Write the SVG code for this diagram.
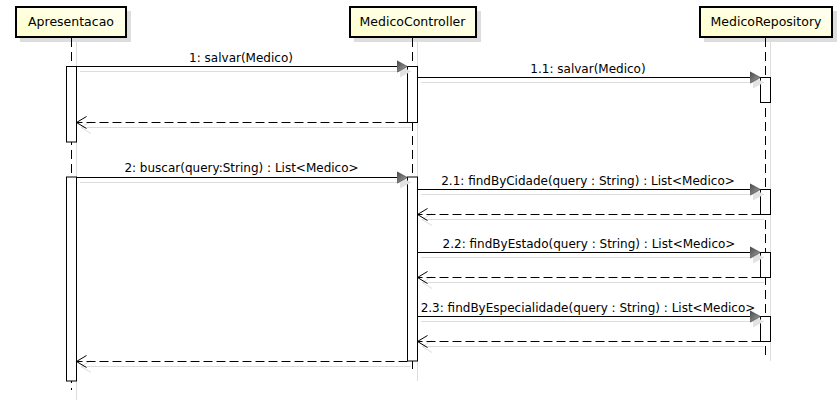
<svg xmlns="http://www.w3.org/2000/svg" width="840" height="400" viewBox="0 0 840 400">
<defs>
<linearGradient id="boxfill" x1="0" y1="1" x2="1" y2="0">
<stop offset="0" stop-color="#ffffcc"/>
<stop offset="1" stop-color="#fffff4"/>
</linearGradient>
<linearGradient id="headfill" x1="0" y1="0" x2="1" y2="1">
<stop offset="0" stop-color="#444"/>
<stop offset="1" stop-color="#aaa"/>
</linearGradient>
<marker id="sync" markerWidth="12" markerHeight="14" refX="11" refY="7" orient="auto" markerUnits="userSpaceOnUse">
<path d="M0,1 L11,7 L0,13 Z" fill="url(#headfill)" stroke="#333" stroke-width="0.5"/>
</marker>
<marker id="syncsh" markerWidth="12" markerHeight="14" refX="11" refY="7" orient="auto" markerUnits="userSpaceOnUse">
<path d="M0,1 L11,7 L0,13 Z" fill="#e2e2e2"/>
</marker>
<marker id="open" markerWidth="12" markerHeight="14" refX="11" refY="7" orient="auto" markerUnits="userSpaceOnUse">
<path d="M1,1 L11,7 L1,13" fill="none" stroke="#000" stroke-width="1"/>
</marker>
<marker id="opensh" markerWidth="12" markerHeight="14" refX="11" refY="7" orient="auto" markerUnits="userSpaceOnUse">
<path d="M1,1 L11,7 L1,13" fill="none" stroke="#dddddd" stroke-width="1"/>
</marker>
</defs>
<style>
.box{fill:url(#boxfill);stroke:#000;stroke-width:2}
.shadow{fill:#dddddd}
.life{stroke:#000;stroke-width:1;stroke-dasharray:9,5;fill:none}
.lifesh{stroke:#dddddd;stroke-width:1;fill:none}
.act{fill:#fff;stroke:#000;stroke-width:1}
.msg{stroke:#000;stroke-width:1;fill:none}
.msgsh{stroke:#dddddd;stroke-width:1;fill:none}
.ret{stroke:#000;stroke-width:1;stroke-dasharray:9,4;fill:none}
.t{font-family:"DejaVu Sans",sans-serif;font-size:12px;fill:#000;text-anchor:middle}
.bt{font-family:"DejaVu Sans",sans-serif;font-size:12.5px;fill:#000;text-anchor:middle}
</style>
<rect width="840" height="400" fill="#fff"/>

<g id="lifeline-shadows">
<line class="lifesh" x1="76.5" y1="42" x2="76.5" y2="400"/>
<line class="lifesh" x1="417.5" y1="42" x2="417.5" y2="381"/>
<line class="lifesh" x1="770.5" y1="42" x2="770.5" y2="361"/>
</g>

<g id="Apresentacao">
<rect class="shadow" x="20" y="11" width="111" height="31"/>
<rect class="box" x="16" y="7" width="110" height="30"/>
<text class="bt" x="71" y="26">Apresentacao</text>
<line class="life" x1="71.5" y1="38" x2="71.5" y2="390"/>
<rect class="act" x="66.5" y="66.5" width="10" height="75.5"/>
<rect class="act" x="66.5" y="177" width="10" height="204"/>
</g>

<g id="MedicoController">
<rect class="shadow" x="354" y="11" width="127" height="31"/>
<rect class="box" x="350" y="7" width="126" height="30"/>
<text class="bt" x="412.5" y="26">MedicoController</text>
<line class="life" x1="412.5" y1="38" x2="412.5" y2="373"/>
<rect class="act" x="407.5" y="66.5" width="10" height="56"/>
<rect class="act" x="407.5" y="177" width="10" height="184"/>
</g>

<g id="MedicoRepository">
<rect class="shadow" x="704" y="11" width="133" height="31"/>
<rect class="box" x="700" y="7" width="132" height="30"/>
<text class="bt" x="766" y="26">MedicoRepository</text>
<line class="life" x1="765.5" y1="38" x2="765.5" y2="355"/>
<rect class="act" x="760.5" y="77.5" width="10" height="25"/>
<rect class="act" x="760.5" y="189.5" width="10" height="25"/>
<rect class="act" x="760.5" y="252.5" width="10" height="25"/>
<rect class="act" x="760.5" y="316.5" width="10" height="25"/>
</g>

<g id="connectors">
<line class="msgsh" x1="80" y1="71.5" x2="411" y2="71.5" marker-end="url(#syncsh)"/>
<line class="msg" x1="76.5" y1="66.5" x2="407.5" y2="66.5" marker-end="url(#sync)"/>
<text class="t" x="241" y="62">1: salvar(Medico)</text>

<line class="msgsh" x1="421" y1="82.5" x2="764" y2="82.5" marker-end="url(#syncsh)"/>
<line class="msg" x1="417.5" y1="77.5" x2="760.5" y2="77.5" marker-end="url(#sync)"/>
<text class="t" x="588" y="73">1.1: salvar(Medico)</text>

<line class="msgsh" x1="411" y1="127.5" x2="81" y2="127.5" marker-end="url(#opensh)"/>
<line class="ret" x1="407.5" y1="122.5" x2="76.5" y2="122.5" marker-end="url(#open)"/>

<line class="msgsh" x1="80" y1="182.5" x2="411" y2="182.5" marker-end="url(#syncsh)"/>
<line class="msg" x1="76.5" y1="177.5" x2="407.5" y2="177.5" marker-end="url(#sync)"/>
<text class="t" x="241.5" y="172">2: buscar(query:String) : List&lt;Medico&gt;</text>

<line class="msgsh" x1="421" y1="194.5" x2="764" y2="194.5" marker-end="url(#syncsh)"/>
<line class="msg" x1="417.5" y1="189.5" x2="760.5" y2="189.5" marker-end="url(#sync)"/>
<text class="t" x="588" y="185">2.1: findByCidade(query : String) : List&lt;Medico&gt;</text>
<line class="msgsh" x1="764" y1="219.5" x2="422" y2="219.5" marker-end="url(#opensh)"/>
<line class="ret" x1="760.5" y1="214.5" x2="417.5" y2="214.5" marker-end="url(#open)"/>

<line class="msgsh" x1="421" y1="257.5" x2="764" y2="257.5" marker-end="url(#syncsh)"/>
<line class="msg" x1="417.5" y1="252.5" x2="760.5" y2="252.5" marker-end="url(#sync)"/>
<text class="t" x="589" y="248">2.2: findByEstado(query : String) : List&lt;Medico&gt;</text>
<line class="msgsh" x1="764" y1="282.5" x2="422" y2="282.5" marker-end="url(#opensh)"/>
<line class="ret" x1="760.5" y1="277.5" x2="417.5" y2="277.5" marker-end="url(#open)"/>

<line class="msgsh" x1="421" y1="321.5" x2="764" y2="321.5" marker-end="url(#syncsh)"/>
<line class="msg" x1="417.5" y1="316.5" x2="760.5" y2="316.5" marker-end="url(#sync)"/>
<text class="t" x="588" y="312">2.3: findByEspecialidade(query : String) : List&lt;Medico&gt;</text>
<line class="msgsh" x1="764" y1="346.5" x2="422" y2="346.5" marker-end="url(#opensh)"/>
<line class="ret" x1="760.5" y1="341.5" x2="417.5" y2="341.5" marker-end="url(#open)"/>

<line class="msgsh" x1="411" y1="366.5" x2="81" y2="366.5" marker-end="url(#opensh)"/>
<line class="ret" x1="407.5" y1="361.5" x2="76.5" y2="361.5" marker-end="url(#open)"/>
</g>
</svg>
